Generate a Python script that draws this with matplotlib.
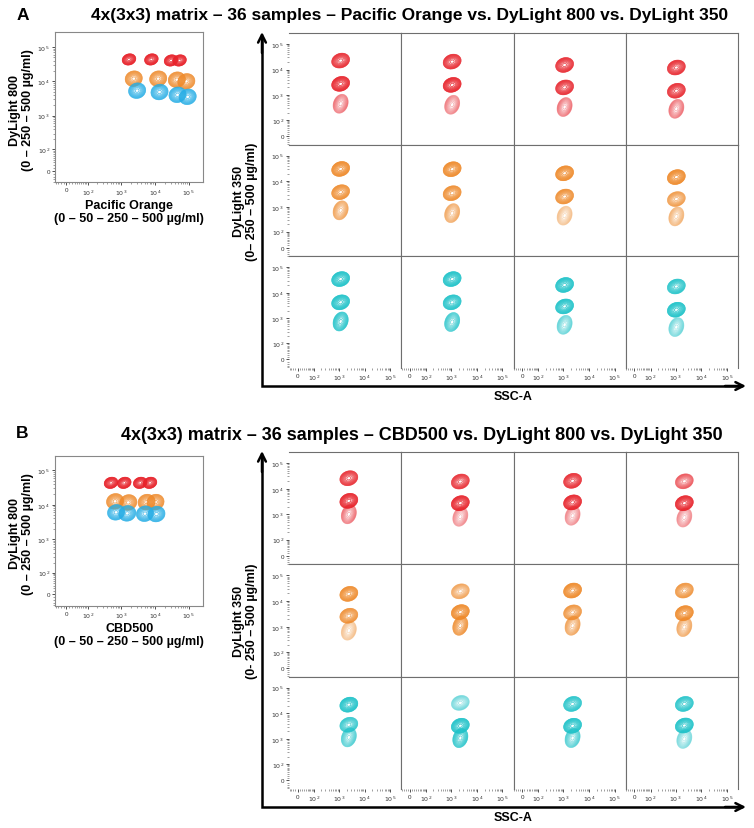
import numpy as np
import matplotlib
matplotlib.use('Agg')
import matplotlib.pyplot as plt

plt.rcParams['font.family'] = ['Liberation Sans', 'DejaVu Sans']

# ------------------------------------------------------------------ data
A_title = "4x(3x3) matrix – 36 samples – Pacific Orange vs. DyLight 800 vs. DyLight 350"
B_title = "4x(3x3) matrix – 36 samples – CBD500 vs. DyLight 800 vs. DyLight 350"

A_over_xlabel = "Pacific Orange\n(0 – 50 – 250 – 500 µg/ml)"
B_over_xlabel = "CBD500\n(0 – 50 – 250 – 500 µg/ml)"
over_ylabel = "DyLight 800\n(0 – 250 – 500 µg/ml)"
A_grid_ylabel = "DyLight 350\n(0– 250 – 500 µg/ml)"
B_grid_ylabel = "DyLight 350\n(0- 250 – 500 µg/ml)"
grid_xlabel = "SSC-A"

tick_values = [0, 1e2, 1e3, 1e4, 1e5]
tick_labels = ['0', '$10^{2}$', '$10^{3}$', '$10^{4}$', '$10^{5}$']

# overview plots (x = first dye, y = DyLight 800), one list per DyLight-800 level
A_over_red_x = [1740, 7940, 30200, 53700]
A_over_red_y = [43600, 43600, 40700, 40700]
A_over_orange_x = [2400, 12600, 44700, 85100]
A_over_orange_y = [12000, 12000, 11200, 10000]
A_over_blue_x = [3020, 13800, 46800, 93300]
A_over_blue_y = [5370, 4900, 4070, 3550]

B_over_red_x = [513, 1260, 3720, 7240]
B_over_red_y = [43600, 43600, 43600, 43600]
B_over_orange_x = [676, 1660, 5750, 10500]
B_over_orange_y = [12600, 11700, 12000, 12000]
B_over_blue_x = [724, 1550, 5130, 11200]
B_over_blue_y = [6030, 5620, 5500, 5370]

# 4x(3x3) matrix: SSC-A per column, DyLight 350 per column (3 populations)
A_grid_ssc = [1175, 1100, 1120, 1070]
A_grid_red = [[22400, 2750, 457], [20400, 2510, 417], [15100, 2000, 339], [12000, 1480, 288]]
A_grid_orange = [[30200, 3720, 724], [29500, 3390, 562], [20400, 2510, 447], [14500, 2000, 417]]
A_grid_cyan = [[34700, 4270, 759], [34700, 4270, 724], [20400, 2950, 562], [17800, 2190, 457]]
A_grid_red_int = [[0.9, 1.0, 0.45], [0.9, 1.0, 0.4], [0.9, 0.9, 0.45], [0.9, 0.9, 0.45]]
A_grid_orange_int = [[1.0, 0.9, 0.6], [1.0, 0.9, 0.55], [1.0, 0.9, 0.35], [1.0, 0.7, 0.45]]
A_grid_cyan_int = [[1.0, 1.0, 0.85], [1.0, 0.95, 0.7], [1.0, 1.0, 0.5], [0.9, 1.0, 0.45]]

B_grid_ssc = [2450, 2290, 2290, 2190]
B_grid_red = [[25700, 3390, 1020], [19100, 2750, 813], [20400, 2950, 891], [19500, 2750, 759]]
B_grid_orange = [[19100, 2690, 708], [24000, 3720, 1100], [25700, 3630, 1100], [25700, 3390, 977]]
B_grid_cyan = [[21900, 3630, 1175], [25700, 3310, 1100], [23400, 3310, 1100], [23400, 3390, 1020]]
B_grid_red_int = [[0.85, 1.0, 0.45], [0.85, 1.0, 0.35], [0.9, 1.0, 0.35], [0.6, 1.0, 0.35]]
B_grid_orange_int = [[0.95, 0.85, 0.35], [0.6, 1.0, 0.8], [1.0, 0.8, 0.6], [0.8, 1.0, 0.55]]
B_grid_cyan_int = [[1.0, 0.8, 0.6], [0.45, 1.0, 0.8], [0.9, 1.0, 0.6], [0.9, 1.0, 0.4]]

RED = '#e8232b'
ORANGE = '#ef8a2a'
CYAN = '#1fc3c9'
BLUE = '#27aee6'

# ------------------------------------------------------------------ scale
C = 25.0


def fwd(v):
    return np.arcsinh(np.asarray(v, dtype=float) / (2 * C)) / np.log(10) + np.log10(C)


def inv(u):
    return 2 * C * np.sinh((np.asarray(u, dtype=float) - np.log10(C)) * np.log(10))


ULIM = (1.06, 5.43)
LEVELS = np.geomspace(0.04, 0.85, 11)

minor_ticks = [v for v in range(-40, 100, 10) if v != 0] + \
    [k * 10 ** e for e in range(2, 5) for k in range(2, 10)]

W, H = 754, 829
fig = plt.figure(figsize=(W / 100, H / 100), dpi=100)


def rect(x0, y0, x1, y1):
    return [x0 / W, 1 - y1 / H, (x1 - x0) / W, (y1 - y0) / H]


def setup(ax, showx=True, showy=True, spine_col='#888888'):
    for a in ('x', 'y'):
        getattr(ax, 'set_%sscale' % a)('function', functions=(fwd, inv))
    ax.set_xlim(inv(ULIM[0]), inv(ULIM[1]))
    ax.set_ylim(inv(ULIM[0]), inv(ULIM[1]))
    ax.set_xticks(tick_values)
    ax.set_yticks(tick_values)
    ax.set_xticks(minor_ticks, minor=True)
    ax.set_yticks(minor_ticks, minor=True)
    ax.set_xticklabels(tick_labels)
    ax.set_yticklabels(tick_labels)
    ax.tick_params(which='major', length=2.5, width=0.6, labelsize=4.5, pad=1.2,
                   color='#333333', labelcolor='#333333')
    ax.tick_params(which='minor', length=1.3, width=0.4, color='#555555')
    ax.tick_params(axis='x', which='both', bottom=showx, labelbottom=showx)
    ax.tick_params(axis='y', which='both', left=showy, labelleft=showy)
    for s in ax.spines.values():
        s.set_color(spine_col)
        s.set_linewidth(0.8)


def blob(ax, x, y, sx, sy, ang, color, alpha):
    u0, v0 = fwd(x), fwd(y)
    r = max(sx, sy) * 3.2
    t = np.linspace(-r, r, 80)
    U, V = np.meshgrid(u0 + t, v0 + t)
    du, dv = U - u0, V - v0
    ca, sa = np.cos(ang), np.sin(ang)
    a = (du * ca + dv * sa) / sx
    b = (-du * sa + dv * ca) / sy
    Z = np.exp(-0.5 * (a ** 2 + b ** 2))
    ax.contourf(inv(U), inv(V), Z, levels=[0.04, 0.9], colors=[color], alpha=0.12 * alpha ** 2)
    ax.contour(inv(U), inv(V), Z, levels=LEVELS, colors=[color], linewidths=0.5,
               alpha=alpha * 0.95)


def overview(top, xs_list, ys_list, cols, xlabel):
    ax = fig.add_axes(rect(55, top, 203.3, top + 150))
    setup(ax)
    for xs, ys, col in zip(xs_list, ys_list, cols):
        big = col != RED
        for x, y in zip(xs, ys):
            if big:
                blob(ax, x, y, 0.1, 0.088, 0.3, col, 0.85)
            else:
                blob(ax, x, y, 0.08, 0.063, 0.3, col, 0.95)
    cx = (55 + 203.3) / 2
    fig.text(cx / W, 1 - (top + 179) / H, xlabel, ha='center', va='center',
             fontsize=9, fontweight='bold', linespacing=1.1)
    fig.text(21.5 / W, 1 - (top + 77) / H, over_ylabel, ha='center', va='center',
             rotation=90, fontsize=9, fontweight='bold', linespacing=1.1)


col_x = [289, 401.25, 513.5, 625.75, 738]


def matrix(top, bottom, ssc, rows, ints, ylabel):
    hh = (bottom - top) / 3
    colors = [RED, ORANGE, CYAN]
    for r in range(3):
        for c in range(4):
            ax = fig.add_axes(rect(col_x[c], top + r * hh, col_x[c + 1], top + (r + 1) * hh))
            setup(ax, showx=(r == 2), showy=(c == 0), spine_col='#6e6e6e')
            if c == 0:
                ax.spines['left'].set_visible(False)
            if r == 2:
                ax.spines['bottom'].set_visible(False)
            for k, (yv, it) in enumerate(zip(rows[r][c], ints[r][c])):
                if k < 2:
                    blob(ax, ssc[c], yv, 0.14, 0.11, 0.35, colors[r], it)
                else:
                    blob(ax, ssc[c], yv, 0.11, 0.15, -0.35, colors[r], it)
    # arrows
    ov.plot([262, 262, 742], [top + 5, bottom + 18, bottom + 18], color='black', lw=1.8,
            solid_joinstyle='miter', solid_capstyle='butt')
    ov.annotate('', xy=(262, top - 1), xytext=(262, top + 20),
                arrowprops=dict(arrowstyle='->', lw=1.8, color='black', mutation_scale=14,
                                shrinkA=0, shrinkB=0))
    ov.annotate('', xy=(746, bottom + 18), xytext=(725, bottom + 18),
                arrowprops=dict(arrowstyle='->', lw=1.8, color='black', mutation_scale=14,
                                shrinkA=0, shrinkB=0))
    fig.text(245.5 / W, 1 - ((top + bottom) / 2) / H, ylabel, ha='center', va='center',
             rotation=90, fontsize=9, fontweight='bold', linespacing=1.1)
    fig.text(513.5 / W, 1 - (bottom + 28) / H, grid_xlabel, ha='center', va='center',
             fontsize=9, fontweight='bold')


ov = fig.add_axes([0, 0, 1, 1], zorder=-5)
ov.set_xlim(0, W)
ov.set_ylim(H, 0)
ov.axis('off')

# Panel A
fig.text(23 / W, 1 - 15 / H, 'A', ha='center', va='center', fontsize=12.5, fontweight='bold')
fig.text(410 / W, 1 - 15.5 / H, A_title, ha='center', va='center', fontsize=12.5, fontweight='bold')
overview(33.3, [A_over_red_x, A_over_orange_x, A_over_blue_x],
         [A_over_red_y, A_over_orange_y, A_over_blue_y], [RED, ORANGE, BLUE], A_over_xlabel)
matrix(34, 369, A_grid_ssc,
       [A_grid_red, A_grid_orange, A_grid_cyan],
       [A_grid_red_int, A_grid_orange_int, A_grid_cyan_int], A_grid_ylabel)

# Panel B
fig.text(22 / W, 1 - 434 / H, 'B', ha='center', va='center', fontsize=12.5, fontweight='bold')
fig.text(422 / W, 1 - 435 / H, B_title, ha='center', va='center', fontsize=13, fontweight='bold')
overview(456.7, [B_over_red_x, B_over_orange_x, B_over_blue_x],
         [B_over_red_y, B_over_orange_y, B_over_blue_y], [RED, ORANGE, BLUE], B_over_xlabel)
matrix(453, 790, B_grid_ssc,
       [B_grid_red, B_grid_orange, B_grid_cyan],
       [B_grid_red_int, B_grid_orange_int, B_grid_cyan_int], B_grid_ylabel)

fig.savefig('out.png', dpi=100)
